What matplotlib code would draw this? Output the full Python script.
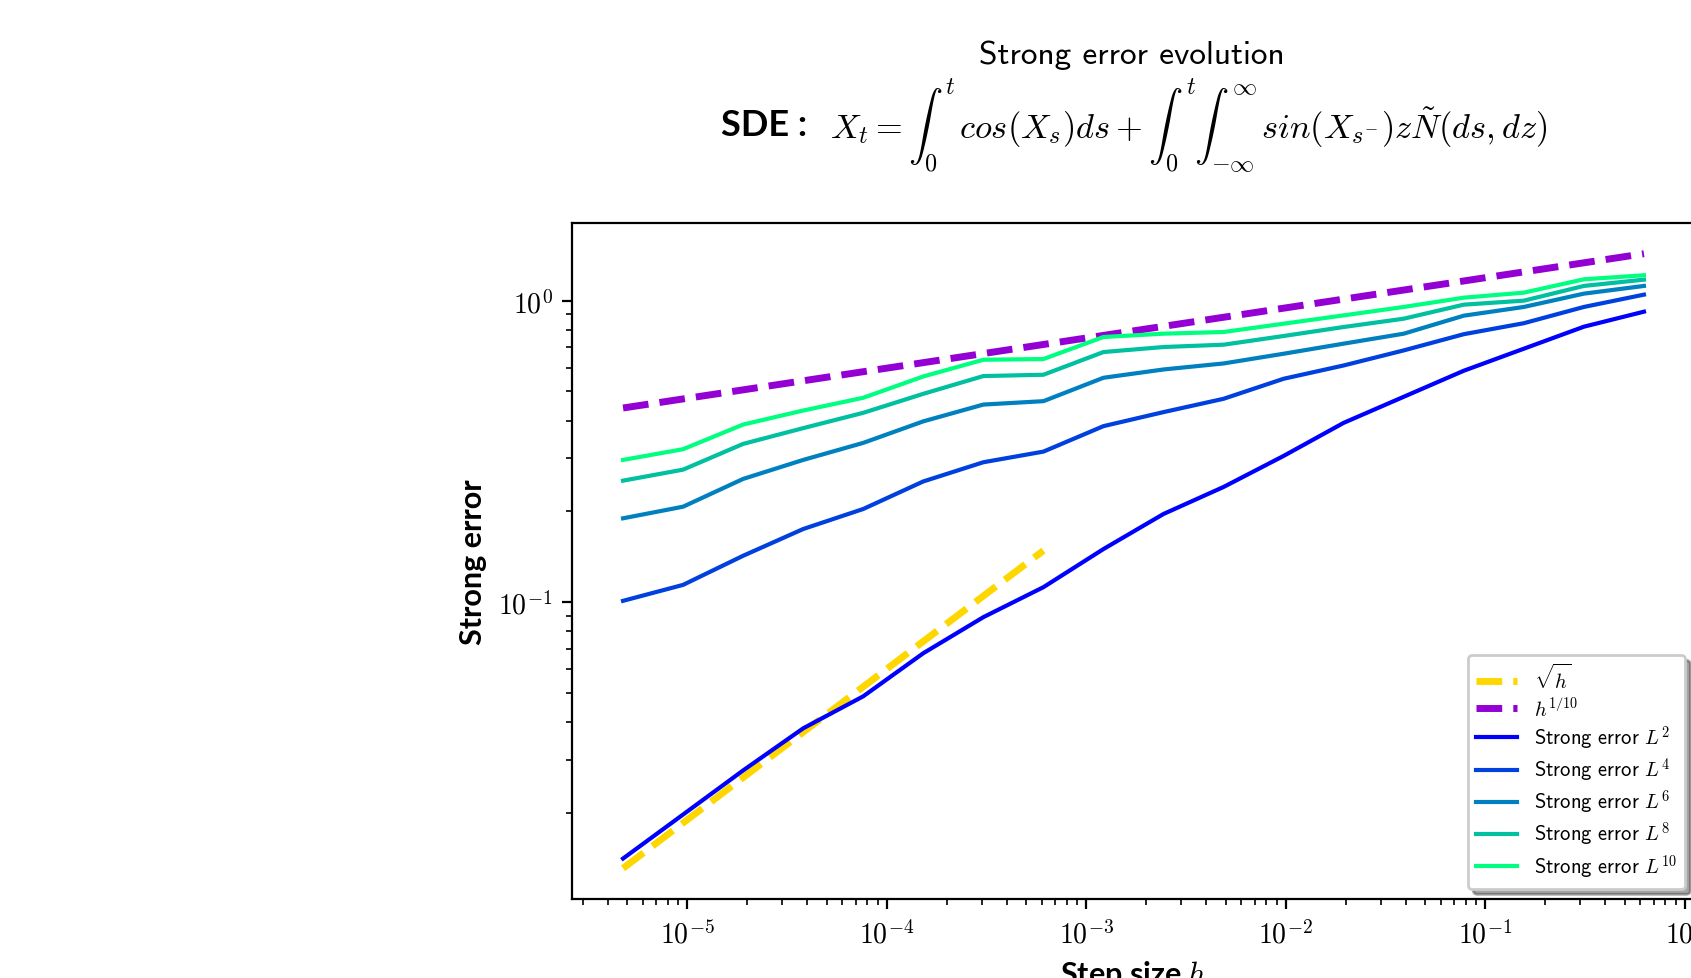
import numpy as np
import matplotlib
matplotlib.use('Agg')
import matplotlib.pyplot as plt
from matplotlib.ticker import FuncFormatter

plt.rcParams['font.family'] = ['cmss10', 'DejaVu Sans']
plt.rcParams['mathtext.fontset'] = 'cm'
plt.rcParams['axes.unicode_minus'] = False

# step sizes h (ascending)
h = [4.76837158203125e-06, 9.5367431640625e-06, 1.9073486328125e-05, 3.814697265625e-05,
     7.62939453125e-05, 0.000152587890625, 0.00030517578125, 0.0006103515625,
     0.001220703125, 0.00244140625, 0.0048828125, 0.009765625,
     0.01953125, 0.0390625, 0.078125, 0.15625, 0.3125, 0.625]

# reference slopes
sqrt_ref = [0.01310, 0.01853, 0.02620, 0.03706, 0.05241, 0.07412, 0.10482, 0.14824]
tenth_ref = [0.4405, 0.4721, 0.5060, 0.5423, 0.5812, 0.6229, 0.6676, 0.7155, 0.7669,
             0.8219, 0.8809, 0.9441, 1.0119, 1.0845, 1.1623, 1.2457, 1.3351, 1.4310]

# strong errors in L^p
err_L2 = [0.01411, 0.01975, 0.02766, 0.03815, 0.04872, 0.06770, 0.08916, 0.1121, 0.1500,
          0.1961, 0.2410, 0.3055, 0.3933, 0.4799, 0.5855, 0.6928, 0.8196, 0.9193]
err_L4 = [0.1010, 0.1141, 0.1425, 0.1748, 0.2037, 0.2514, 0.2911, 0.3157, 0.3835,
          0.4269, 0.4726, 0.5507, 0.6096, 0.6839, 0.7740, 0.8418, 0.9530, 1.047]
err_L6 = [0.1897, 0.2073, 0.2563, 0.2963, 0.3375, 0.3978, 0.4522, 0.4641, 0.5549,
          0.5912, 0.6190, 0.6667, 0.7201, 0.7770, 0.8916, 0.9530, 1.055, 1.119]
err_L8 = [0.2529, 0.2751, 0.3349, 0.3777, 0.4246, 0.4909, 0.5622, 0.5678, 0.6754,
          0.7018, 0.7143, 0.7634, 0.8177, 0.8713, 0.9699, 1.0, 1.119, 1.174]
err_L10 = [0.2963, 0.3216, 0.3882, 0.4321, 0.4763, 0.5605, 0.6368, 0.6402, 0.7576,
           0.7770, 0.7871, 0.8386, 0.8937, 0.9530, 1.023, 1.063, 1.177, 1.214]

orders = [2, 4, 6, 8, 10]
errors = [err_L2, err_L4, err_L6, err_L8, err_L10]

fig = plt.figure(figsize=(1691 / 200, 979 / 200), dpi=200)
ax = fig.add_axes([572 / 1691, 1 - 900 / 979, (1695 - 572) / 1691, (900 - 224) / 979])

ax.loglog(h[:len(sqrt_ref)], sqrt_ref, '--', color='gold', lw=2.5, label=r'$\sqrt{h}$')
ax.loglog(h, tenth_ref, '--', color='darkviolet', lw=2.5, label=r'$h^{1/10}$')
cols = plt.cm.winter(np.linspace(0, 1, len(orders)))
for p, e, c in zip(orders, errors, cols):
    ax.loglog(h, e, color=c, lw=1.5, label=r'Strong error $L^{%d}$' % p)

fmt = FuncFormatter(lambda v, pos: r'$10^{%d}$' % int(round(np.log10(v))))
ax.xaxis.set_major_formatter(fmt)
ax.yaxis.set_major_formatter(fmt)
ax.tick_params(labelsize=10)

bold = dict(family=['Lato', 'DejaVu Sans'], weight='bold', size=11)
ax.set_xlabel(r'Step size $h$', fontdict=bold)
ax.set_ylabel('Strong error', fontdict=bold)

ax.legend(loc='lower right', shadow=True, fontsize=7.4, labelspacing=0.2,
          handlelength=2.0)

fig.text(1132 / 1691, 1 - 55 / 979, 'Strong error evolution', ha='center', va='center', fontsize=12)
fig.text(807 / 1691, 1 - 126 / 979, 'SDE :', ha='right', va='center',
         family=['Lato', 'DejaVu Sans'], weight='bold', fontsize=13)
fig.text(830 / 1691, 1 - 126 / 979,
         r'$X_t = \int_0^t\, cos(X_s)ds + \int_0^t\int_{-\infty}^{\infty}\, sin(X_{s^{-}})z\tilde{N}(ds,dz)$',
         ha='left', va='center', fontsize=12.4)

fig.savefig('out.png', dpi=200)
